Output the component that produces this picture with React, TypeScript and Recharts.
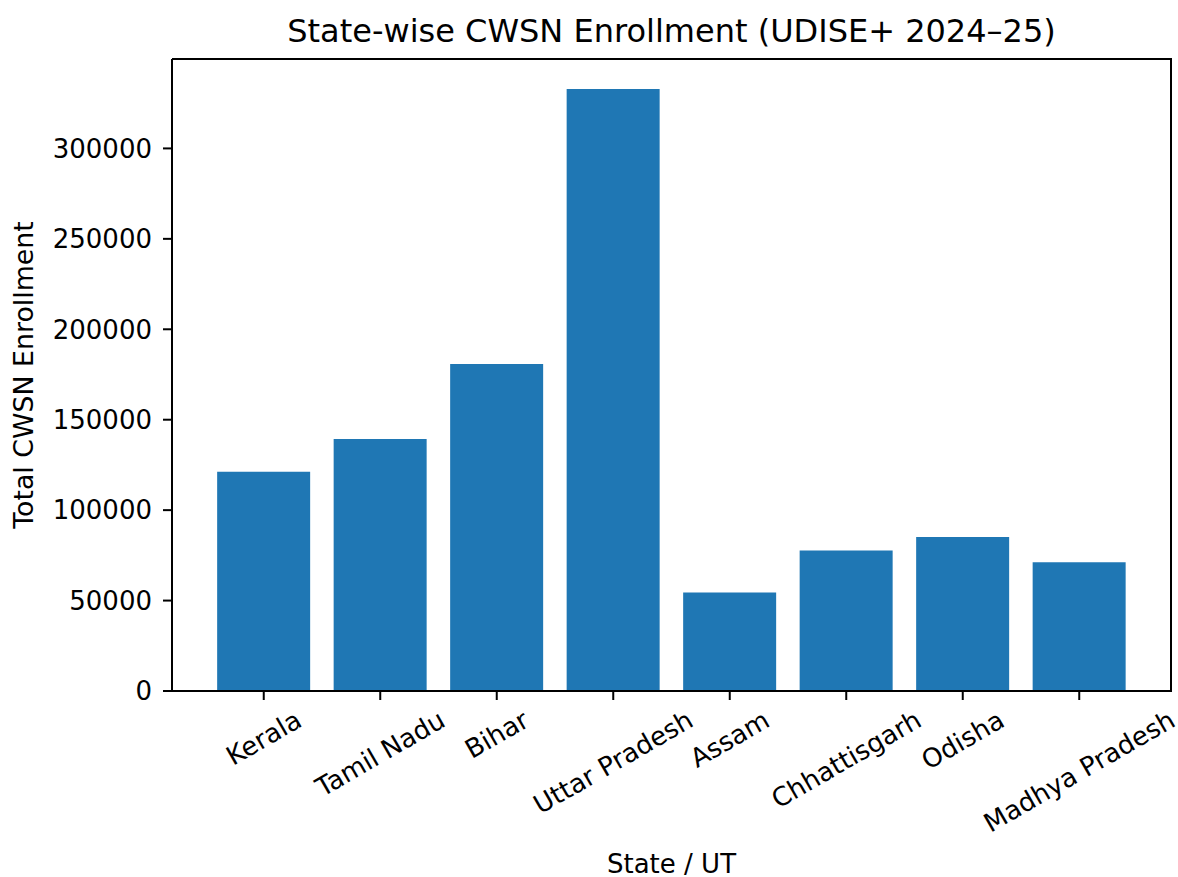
import { BarChart, Bar, XAxis, YAxis } from "recharts";

const states = [
  "Kerala", "Tamil Nadu", "Bihar", "Uttar Pradesh",
  "Assam", "Chhattisgarh", "Odisha", "Madhya Pradesh",
];
const enrollment = [121200, 139300, 180800, 332800, 54500, 77700, 85200, 71200];
const yTicks = [0, 50000, 100000, 150000, 200000, 250000, 300000];
const yMax = 349440;

const data = states.map((s, i) => ({ state: s, cwsn: enrollment[i] }));

const FONT = "DejaVu Sans, sans-serif";
const FS = 26;
const W = 1170, H = 869;
const M = { top: 50, right: 7, left: 0, bottom: 0 };
const PLOT_TOP = 51, PLOT_BOTTOM = 683;

let ctx: CanvasRenderingContext2D | null = null;
function textWidth(t: string) {
  if (!ctx) {
    ctx = document.createElement("canvas").getContext("2d");
    if (ctx) ctx.font = `${FS}px "DejaVu Sans"`;
  }
  return ctx ? ctx.measureText(t).width : t.length * FS * 0.6;
}

// rotated tick, bbox centred under the tick like matplotlib rotation=30
function XTick(props: any) {
  const { x, y, payload } = props;
  const w = textWidth(payload.value);
  const cy = y + 17.5 + w / 4;
  return (
    <text x={x} y={cy} textAnchor="middle" dominantBaseline="central"
      transform={`rotate(-30, ${x}, ${cy})`} fontSize={FS} fontFamily={FONT} fill="#000">
      {payload.value}
    </text>
  );
}

export default function App() {
  const axisLine = { stroke: "#000", strokeWidth: 2 };
  return (
    <div style={{ padding: "8px 0 0 8px" }}>
      <style>{`body{margin:0;overflow:hidden} svg{overflow:visible}`}</style>
      <div style={{ width: W, height: H, position: "relative" }}>
        <BarChart width={W} height={H} data={data} barCategoryGap="10%" margin={M}>
          <XAxis dataKey="state" height={186} interval={0} padding={{ left: 33.5, right: 33.5 }}
            tickSize={9} tickMargin={0} axisLine={axisLine} tickLine={axisLine} tick={<XTick />}
            label={{
              content: (p: any) => (
                <text x={p.viewBox.x + p.viewBox.width / 2} y={p.viewBox.y + 182} textAnchor="middle"
                  fontSize={FS} fontFamily={FONT} fill="#000">State / UT</text>
              ),
            }} />
          <XAxis xAxisId="top" dataKey="state" orientation="top" height={1} tick={false}
            tickLine={false} axisLine={axisLine}
            label={{
              content: (p: any) => (
                <text x={p.viewBox.x + p.viewBox.width / 2} y={PLOT_TOP - 17} textAnchor="middle"
                  fontSize={32} fontFamily={FONT} fill="#000">State-wise CWSN Enrollment (UDISE+ 2024–25)</text>
              ),
            }} />
          <YAxis width={164} domain={[0, yMax]} ticks={yTicks} interval={0} tickSize={9} tickMargin={11}
            axisLine={axisLine} tickLine={axisLine}
            tick={{ fontSize: FS, fontFamily: FONT, fill: "#000" }}
            label={{
              content: (p: any) => {
                const cy = p.viewBox.y + p.viewBox.height / 2;
                return (
                  <text x={25} y={cy} textAnchor="middle" transform={`rotate(-90, 25, ${cy})`}
                    fontSize={26.8} fontFamily={FONT} fill="#000">Total CWSN Enrollment</text>
                );
              },
            }} />
          <Bar dataKey="cwsn" fill="#1f77b4" isAnimationActive={false} />
        </BarChart>
        {/* right spine */}
        <div style={{
          position: "absolute", left: W - M.right - 1, top: PLOT_TOP - 1,
          width: 2, height: PLOT_BOTTOM - PLOT_TOP + 2, background: "#000",
        }} />
      </div>
    </div>
  );
}
